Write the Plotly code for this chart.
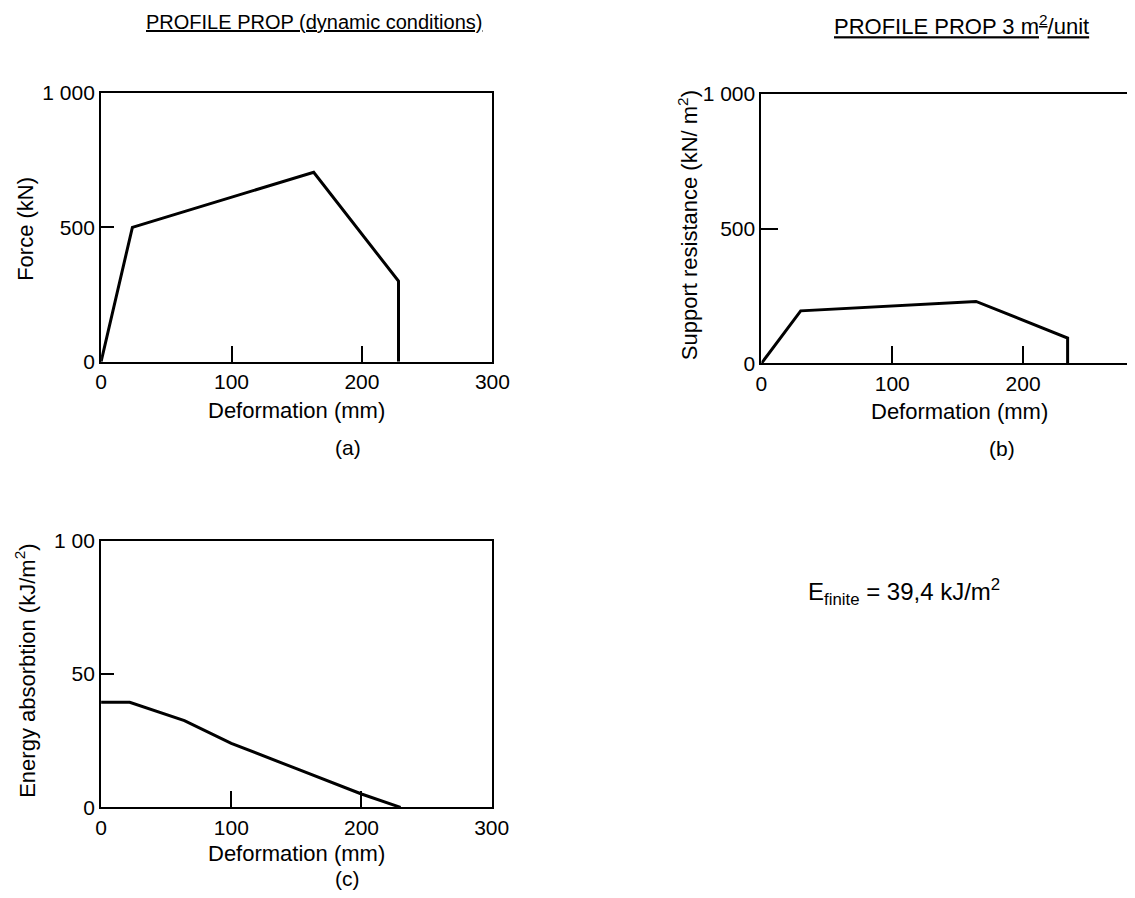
import plotly.graph_objects as go

# ---- data ----
a_deform = [0, 24, 163, 228, 228]
a_force = [0, 500, 705, 300, 0]

b_deform = [0, 30, 164, 234, 234]
b_resist = [0, 195, 230, 94, 0]

c_deform = [0, 22, 64, 100, 150, 200, 230]
c_energy = [39.4, 39.4, 32.5, 24, 14.5, 5, 0]

x_ticks = [0, 100, 200, 300]
x_ticktext = ["0", "100", "200", "300"]
ab_yticks = [0, 500, 1000]
ab_yticktext = ["0", "500", "1 000"]
c_yticks = [0, 50, 100]
c_yticktext = ["0", "50", "1 00"]

# figure size and page placement (body margin of the html page)
OFF = 8
W, H = 1145, 882
SX, CX = 0.98, 5.0
SY, CY = 0.974, 11.5
FONT = "Liberation Sans, Arial, sans-serif"
TICK_SIZE = 21
LABEL_SIZE = 22


def px(x):
    return ((x - CX) / SX - OFF) / W


def py(y):
    return 1 - ((y - CY) / SY - OFF) / H


fig = go.Figure()
line_style = dict(color="black", width=3)
fig.add_trace(go.Scatter(x=a_deform, y=a_force, mode="lines", line=line_style,
                         xaxis="x", yaxis="y", showlegend=False, cliponaxis=False))
fig.add_trace(go.Scatter(x=b_deform, y=b_resist, mode="lines", line=line_style,
                         xaxis="x2", yaxis="y2", showlegend=False, cliponaxis=False))
fig.add_trace(go.Scatter(x=c_deform, y=c_energy, mode="lines", line=line_style,
                         xaxis="x3", yaxis="y3", showlegend=False, cliponaxis=False))

axis_common = dict(showgrid=False, zeroline=False, showline=True, linecolor="black",
                   linewidth=2, ticks="inside", tickcolor="black", tickwidth=2,
                   tickfont=dict(family=FONT, size=TICK_SIZE, color="black"))

b_left = px(761)
b_right_px = 1135
b_right_dom = min(1.0, px(b_right_px))
b_xmax = (b_right_px - 761) / 1.31

fig.update_layout(
    width=W, height=H, margin=dict(l=0, r=0, t=0, b=0),
    paper_bgcolor="white", plot_bgcolor="white",
    font=dict(family=FONT, size=TICK_SIZE, color="black"),
    xaxis=dict(**axis_common, domain=[px(100), px(491.7)], range=[0, 300], anchor="y",
               mirror=True, tickvals=x_ticks, ticktext=x_ticktext, ticklen=16),
    yaxis=dict(**axis_common, domain=[py(361), py(92.3)], range=[0, 1000], anchor="x",
               mirror=True, tickvals=ab_yticks, ticktext=ab_yticktext, ticklen=13),
    xaxis2=dict(**axis_common, domain=[b_left, b_right_dom], range=[0, b_xmax], anchor="y2",
                mirror=True, tickvals=[0, 100, 200], ticktext=["0", "100", "200"], ticklen=17),
    yaxis2=dict(**axis_common, domain=[py(362.7), py(93.3)], range=[0, 1000], anchor="x2",
                mirror=False, tickvals=ab_yticks, ticktext=ab_yticktext, ticklen=17),
    xaxis3=dict(**axis_common, domain=[px(100), px(491)], range=[0, 300], anchor="y3",
                mirror=True, tickvals=x_ticks, ticktext=x_ticktext, ticklen=16),
    yaxis3=dict(**axis_common, domain=[py(806.7), py(540)], range=[0, 100], anchor="x3",
                mirror=True, tickvals=c_yticks, ticktext=c_yticktext, ticklen=13),
)

annotations = [
    # titles
    dict(text="<u>PROFILE PROP (dynamic conditions)</u>", x=px(313), y=py(21), size=20),
    dict(text="<u>PROFILE PROP 3 m<sup>2</sup>/unit</u>", x=px(961), y=py(24), size=22),
    # x axis titles
    dict(text="Deformation (mm)", x=px(296), y=py(410)),
    dict(text="Deformation (mm)", x=px(959), y=py(411)),
    dict(text="Deformation (mm)", x=px(296), y=py(853)),
    # y axis titles
    dict(text="Force (kN)", x=px(25), y=py(228), textangle=-90),
    dict(text="Support resistance (kN/ m<sup>2</sup>)", x=px(687), y=py(224), textangle=-90),
    dict(text="Energy absorbtion (kJ/m<sup>2</sup>)", x=px(24), y=py(670), textangle=-90),
    # panel labels
    dict(text="(a)", x=px(347), y=py(447), size=TICK_SIZE),
    dict(text="(b)", x=px(1002), y=py(448), size=TICK_SIZE),
    dict(text="(c)", x=px(347), y=py(878), size=TICK_SIZE),
    # energy note
    dict(text="E<sub>finite</sub> = 39,4 kJ/m<sup>2</sup>", x=px(904), y=py(591), size=24),
]
for a in annotations:
    size = a.pop("size", LABEL_SIZE)
    fig.add_annotation(xref="paper", yref="paper", showarrow=False,
                       xanchor="center", yanchor="middle",
                       font=dict(family=FONT, color="black", size=size), **a)

fig.write_html("out.html")
